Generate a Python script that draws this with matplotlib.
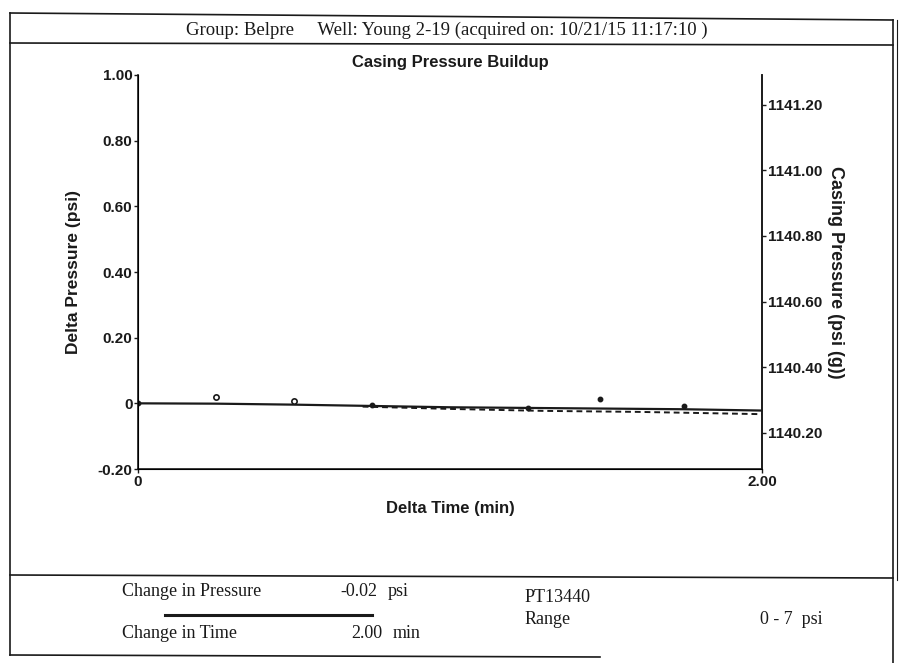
import matplotlib
matplotlib.use("Agg")
import matplotlib.pyplot as plt
from matplotlib.lines import Line2D

# ---- data ----
time_pts = [0.0, 0.25, 0.50, 0.75, 1.25, 1.48, 1.75]
dp_pts = [0.0, 0.018, 0.007, -0.005, -0.015, 0.012, -0.008]
open_marker = [False, True, True, False, False, False, False]

trace_time = [0.0, 0.25, 0.50, 0.75, 1.00, 1.25, 1.50, 1.75, 2.00]
trace_dp = [0.0, -0.001, -0.004, -0.008, -0.012, -0.014, -0.016, -0.018, -0.022]

dash_time = [0.72, 1.00, 1.30, 1.60, 2.00]
dash_dp = [-0.010, -0.017, -0.023, -0.026, -0.033]

left_ticks = [1.00, 0.80, 0.60, 0.40, 0.20, 0.0, -0.20]
left_labels = ["1.00", "0.80", "0.60", "0.40", "0.20", "0", "-0.20"]
right_ticks = [1141.20, 1141.00, 1140.80, 1140.60, 1140.40, 1140.20]
right_labels = ["1141.20", "1141.00", "1140.80", "1140.60", "1140.40", "1140.20"]
x_ticks = [0, 2.0]
x_labels = ["0", "2.00"]
casing_offset = 1140.29

header = "Group: Belpre     Well: Young 2-19 (acquired on: 10/21/15 11:17:10 )"
title = "Casing Pressure Buildup"
xlabel = "Delta Time (min)"
ylabel_left = "Delta Pressure (psi)"
ylabel_right = "Casing Pressure (psi (g))"

W, H = 909, 663
fig = plt.figure(figsize=(W / 100, H / 100), dpi=100)
fig.patch.set_facecolor("white")

SANS = ["Liberation Sans", "DejaVu Sans"]
SERIF = ["Liberation Serif", "DejaVu Serif"]
INK = "#1a1a1a"

def fx(px):
    return px / W

def fy(py):
    return 1 - py / H

def fline(x0, y0, x1, y1, lw=1.2):
    fig.add_artist(Line2D([fx(x0), fx(x1)], [fy(y0), fy(y1)],
                          transform=fig.transFigure, color=INK, lw=lw))

# ---- axes ----
ax = fig.add_axes([fx(138), fy(469), fx(762) - fx(138), fy(75) - fy(469)])
ax.set_xlim(0, 2.0)
ax.set_ylim(-0.20, 1.00)
ax.spines["top"].set_visible(False)
for s in ["left", "right", "bottom"]:
    ax.spines[s].set_color(INK)
    ax.spines[s].set_linewidth(1.2)

ax.set_yticks(left_ticks)
ax.set_yticklabels(left_labels)
ax.set_xticks(x_ticks)
ax.set_xticklabels(x_labels)
ax.tick_params(axis="both", direction="out", length=3, width=1, colors=INK,
               labelsize=11, pad=1)
for lab in ax.get_yticklabels() + ax.get_xticklabels():
    lab.set_family(SANS)
    lab.set_fontweight("bold")

ax.plot(trace_time, trace_dp, color=INK, lw=1.6, zorder=3)
ax.plot(dash_time, dash_dp, color=INK, lw=1.4, ls=(0, (3, 2)), zorder=3)
for t, d, o in zip(time_pts, dp_pts, open_marker):
    ax.plot([t], [d], marker="o", ms=3.8 if o else 3.0,
            mfc="white" if o else INK, mec=INK, mew=1.2, zorder=4)

ax.set_title(title, fontsize=12, fontweight="bold", family=SANS, color=INK, pad=6)
ax.set_xlabel(xlabel, fontsize=12, fontweight="bold", family=SANS, color=INK,
              labelpad=9)
ax.set_ylabel(ylabel_left, fontsize=12.5, fontweight="bold", family=SANS, color=INK,
              labelpad=12)

ax2 = ax.twinx()
ax2.set_ylim(-0.20 + casing_offset, 1.00 + casing_offset)
ax2.set_yticks(right_ticks)
ax2.set_yticklabels(right_labels)
ax2.spines["top"].set_visible(False)
ax2.spines["right"].set_color(INK)
ax2.spines["right"].set_linewidth(1.2)
ax2.tick_params(axis="y", direction="out", length=3, width=1, colors=INK,
                labelsize=11, pad=1)
for lab in ax2.get_yticklabels():
    lab.set_family(SANS)
    lab.set_fontweight("bold")
ax2.set_ylabel(ylabel_right, fontsize=13, fontweight="bold", family=SANS,
               color=INK, rotation=-90, labelpad=16)

# ---- page frame ----
fline(10, 13, 893, 20)
fline(10, 13, 10, 655)
fline(10, 43, 893, 45)
fline(893, 20, 893, 663)
fline(897, 20, 897, 580, lw=0.8)
fline(10, 575, 893, 578)
fline(10, 655, 600, 657)

fig.text(fx(447), fy(30), header, ha="center", va="center", fontsize=13.5,
         family=SERIF, color=INK)

# ---- bottom info block ----
FS = 13
fig.text(fx(122), fy(592), "Change in Pressure", ha="left", va="center",
         fontsize=FS, family=SERIF, color=INK)
fig.text(fx(377), fy(592), "-0.02", ha="right", va="center", fontsize=FS,
         family=SERIF, color=INK)
fig.text(fx(388), fy(592), "psi", ha="left", va="center", fontsize=FS,
         family=SERIF, color=INK)
fline(165, 615, 372, 615, lw=2.2)
fig.text(fx(122), fy(634), "Change in Time", ha="left", va="center",
         fontsize=FS, family=SERIF, color=INK)
fig.text(fx(382), fy(634), "2.00", ha="right", va="center", fontsize=FS,
         family=SERIF, color=INK)
fig.text(fx(393), fy(634), "min", ha="left", va="center", fontsize=FS,
         family=SERIF, color=INK)
fig.text(fx(525), fy(597), "PT13440", ha="left", va="center", fontsize=FS,
         family=SERIF, color=INK)
fig.text(fx(525), fy(620), "Range", ha="left", va="center", fontsize=FS,
         family=SERIF, color=INK)
fig.text(fx(760), fy(620), "0 - 7  psi", ha="left", va="center", fontsize=FS,
         family=SERIF, color=INK)

fig.savefig("out.png", dpi=100, facecolor="white")
